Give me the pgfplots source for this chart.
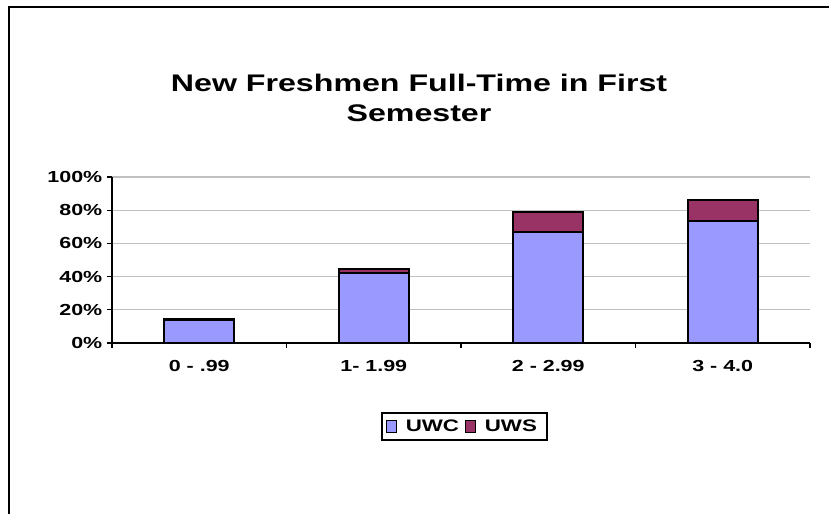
\documentclass[border=0pt]{standalone}
\usepackage{fontspec}
\setmainfont{Liberation Sans}[FakeStretch=1.34]
\usepackage{pgfplots}
\pgfplotsset{compat=1.18}
\definecolor{uwc}{HTML}{9999FF}
\definecolor{uws}{HTML}{993366}
\definecolor{gridc}{HTML}{C0C0C0}
\begin{document}
\begin{tikzpicture}
\useasboundingbox (0,0) rectangle (621.75pt,385.5pt);
\fill[white] (0,0) rectangle (621.75pt,385.5pt);
\draw[line width=1.1pt] (6.75pt,-2pt) -- (6.75pt,380.25pt) -- (625pt,380.25pt);
\node[align=center,font=\bfseries\fontsize{18}{22.5}\selectfont] at (314.25pt,312pt) {New Freshmen Full-Time in First\\Semester};
\begin{axis}[
  at={(84pt,128.25pt)}, anchor=south west,
  scale only axis, width=523.5pt, height=124.5pt,
  ybar stacked, bar width=52.4pt,
  xmin=0, xmax=4, ymin=0, ymax=100,
  axis x line*=bottom, axis y line*=left,
  axis line style={line width=1pt},
  xtick={0.5,1.5,2.5,3.5},
  xticklabels={0 - .99,1- 1.99,2 - 2.99,3 - 4.0},
  minor xtick={0,1,2,3,4},
  major x tick style={draw=none},
  minor x tick style={line width=1pt,black},
  minor tick length=3.75pt,
  ytick={0,20,40,60,80,100},
  yticklabels={0\%,20\%,40\%,60\%,80\%,100\%},
  major tick length=3.75pt,
  tick align=outside,
  y tick style={line width=1pt,black},
  ymajorgrids, grid style={gridc,line width=1pt},
  tick label style={font=\bfseries\fontsize{12}{14}\selectfont},
  xticklabel style={yshift=-6pt},
  legend style={at={(0.505,-0.503)},anchor=center,draw=black,line width=1.1pt,
    font=\bfseries\fontsize{12.5}{14}\selectfont,legend columns=2,
    inner xsep=3pt, inner ysep=3pt,
    nodes={inner xsep=4.5pt},
    /tikz/every odd column/.append style={column sep=2pt}},
  legend image code/.code={\draw[#1,line width=0.8pt] (0pt,-4.5pt) rectangle (7.5pt,4.5pt);},
]
\addplot[fill=uwc,draw=black,line width=1.3pt] coordinates {(0.5,13.6) (1.5,42) (2.5,66.8) (3.5,73.3)};
\addplot[fill=uws,draw=black,line width=1.3pt] coordinates {(0.5,1) (1.5,2.4) (2.5,12.1) (3.5,13)};
\legend{UWC,UWS}
\end{axis}
\end{tikzpicture}
\end{document}
